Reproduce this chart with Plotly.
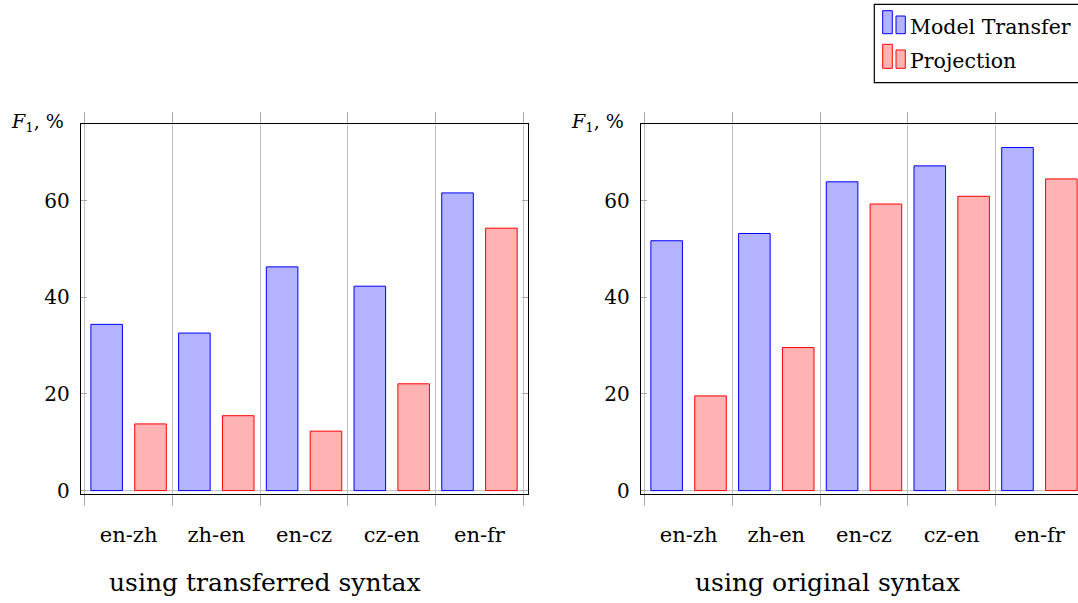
import plotly.graph_objects as go

# ---------------- data ----------------
categories = ["en-zh", "zh-en", "en-cz", "cz-en", "en-fr"]
mt_transferred = [34.4, 32.6, 46.3, 42.3, 61.6]
proj_transferred = [13.8, 15.5, 12.3, 22.1, 54.3]
mt_original = [51.7, 53.2, 63.9, 67.2, 71.0]
proj_original = [19.6, 29.6, 59.3, 60.9, 64.5]
series_names = ["Model Transfer", "Projection"]
panel_titles = ["using transferred syntax", "using original syntax"]
y_ticks = [0, 20, 40, 60]

# ---------------- style ----------------
W, H = 1078, 603
FONT = "DejaVu Serif"
MT_FILL, MT_LINE = "rgb(179,179,255)", "rgb(0,0,255)"
P_FILL, P_LINE = "rgb(255,179,179)", "rgb(255,0,0)"
GRID = "rgb(195,195,195)"
TICKC = "rgb(170,170,170)"


def px_x(p):
    return p / W


def px_y(p):
    return 1 - p / H


fig = go.Figure()

panels = [
    ("x", "y", mt_transferred, proj_transferred),
    ("x2", "y2", mt_original, proj_original),
]
for xa, ya, mt, pj in panels:
    fig.add_trace(go.Bar(
        x=categories, y=mt, xaxis=xa, yaxis=ya, name=series_names[0],
        width=0.36, offset=-0.43, showlegend=False,
        marker=dict(color=MT_FILL, line=dict(color=MT_LINE, width=1)),
    ))
    fig.add_trace(go.Bar(
        x=categories, y=pj, xaxis=xa, yaxis=ya, name=series_names[1],
        width=0.36, offset=0.07, showlegend=False,
        marker=dict(color=P_FILL, line=dict(color=P_LINE, width=1)),
    ))

y_dom = [px_y(493.5), px_y(124.3)]


def xaxis(domain, rng, anchor):
    return dict(
        domain=domain, anchor=anchor, type="category",
        categoryorder="array", categoryarray=categories,
        range=rng, tickson="boundaries",
        showgrid=True, gridcolor=GRID, gridwidth=1,
        ticks="outside", ticklen=11, tickcolor=TICKC, tickwidth=1,
        showline=True, linecolor="black", linewidth=1, mirror="allticks",
        tickfont=dict(family=FONT, size=21, color="black"),
        ticklabelstandoff=22, fixedrange=True,
    )


def yaxis(anchor, mirror):
    return dict(
        domain=y_dom, anchor=anchor, range=[-0.6, 75.8],
        tickvals=y_ticks, showgrid=False,
        zeroline=True, zerolinecolor=GRID, zerolinewidth=1,
        ticks="inside", ticklen=6, tickcolor=TICKC, tickwidth=1,
        showline=True, linecolor="black", linewidth=1, mirror=mirror,
        tickfont=dict(family=FONT, size=20, color="black"),
        ticklabelstandoff=6, fixedrange=True,
    )


fig.update_layout(
    width=W, height=H,
    margin=dict(l=0, r=0, t=0, b=0, pad=0, autoexpand=False),
    paper_bgcolor="white", plot_bgcolor="white",
    barmode="overlay", showlegend=False,
    xaxis=xaxis([px_x(80.7), px_x(527.7)], [-0.546, 4.55], "y"),
    yaxis=yaxis("x", "allticks"),
    xaxis2=xaxis([px_x(640.7), 1.0], [-0.546, 4.44], "y2"),
    yaxis2=yaxis("x2", False),
)

annotations = []
# y-axis titles
for cx in (37, 597):
    annotations.append(dict(
        x=px_x(cx), y=px_y(123), xref="paper", yref="paper",
        text="<i>F</i><sub>1</sub>, %", showarrow=False,
        xanchor="center", yanchor="middle",
        font=dict(family=FONT, size=19, color="black"),
    ))
# panel subtitles
for cx, t in zip((265, 827), panel_titles):
    annotations.append(dict(
        x=px_x(cx), y=px_y(582), xref="paper", yref="paper",
        text=t, showarrow=False, xanchor="center", yanchor="middle",
        font=dict(family=FONT, size=25, color="black"),
    ))

# manual legend (two-bar ybar legend glyph as in the source)
shapes = [dict(
    type="rect", xref="paper", yref="paper",
    x0=px_x(874.3), x1=px_x(1100), y0=px_y(82.7), y1=px_y(4.3),
    line=dict(color="black", width=1.2), fillcolor="white", layer="above",
)]
rows = [(series_names[0], MT_FILL, MT_LINE, 10.7, 33.7, 16.0, 27.0),
        (series_names[1], P_FILL, P_LINE, 44.3, 68.3, 50.0, 60.5)]
for name, fc, lc, t1, b, t2, ty in rows:
    shapes.append(dict(type="rect", xref="paper", yref="paper",
                       x0=px_x(882.7), x1=px_x(892.3), y0=px_y(b), y1=px_y(t1),
                       line=dict(color=lc, width=1), fillcolor=fc, layer="above"))
    shapes.append(dict(type="rect", xref="paper", yref="paper",
                       x0=px_x(896.0), x1=px_x(905.3), y0=px_y(b), y1=px_y(t2),
                       line=dict(color=lc, width=1), fillcolor=fc, layer="above"))
    annotations.append(dict(
        x=px_x(908), y=px_y(ty), xref="paper", yref="paper",
        text=name, showarrow=False, xanchor="left", yanchor="middle",
        font=dict(family=FONT, size=20.5, color="black"),
    ))

fig.update_layout(annotations=annotations, shapes=shapes)

fig.write_html("out.html")
